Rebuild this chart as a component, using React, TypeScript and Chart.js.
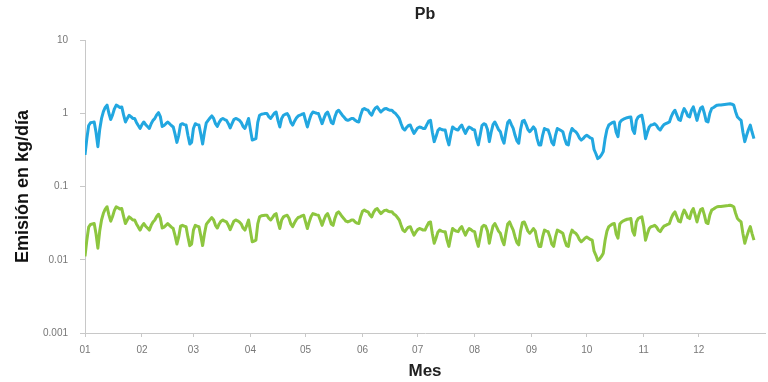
import React, { useEffect, useRef } from 'react';
import { Chart, registerables } from 'chart.js';

Chart.register(...registerables);

const CHART_TITLE = 'Pb';
const X_TITLE = 'Mes';
const Y_TITLE = 'Emisión en kg/día';

const MONTH_LABELS = ['01', '02', '03', '04', '05', '06', '07', '08', '09', '10', '11', '12'];
const MONTH_START_DAYS = [0, 31, 59, 90, 120, 151, 181, 212, 243, 273, 304, 334];
const Y_TICKS = [0.001, 0.01, 0.1, 1, 10];

// Daily emission (kg/día), upper series
const BLUE_SERIES = [
  0.27, 0.45, 0.68, 0.74, 0.75, 0.76, 0.55, 0.35, 0.6, 0.85,
  1.05, 1.2, 1.29, 1.0, 0.82, 0.95, 1.15, 1.29, 1.25, 1.2,
  1.22, 0.95, 0.76, 0.85, 0.94, 0.9, 0.85, 0.85, 0.75, 0.68,
  0.62, 0.7, 0.76, 0.7, 0.66, 0.62, 0.72, 0.8, 0.85, 0.95,
  1.02, 0.9, 0.66, 0.68, 0.72, 0.76, 0.72, 0.68, 0.65, 0.52,
  0.4, 0.5, 0.7, 0.72, 0.7, 0.69, 0.5, 0.38, 0.4, 0.62,
  0.72, 0.7, 0.69, 0.52, 0.38, 0.55, 0.74, 0.8, 0.86, 0.92,
  0.85, 0.72, 0.66, 0.75, 0.82, 0.85, 0.82, 0.8, 0.72, 0.63,
  0.72, 0.82, 0.85, 0.83, 0.8, 0.75, 0.66, 0.62, 0.72, 0.85,
  0.6, 0.43, 0.44, 0.45, 0.75, 0.94, 0.97, 0.98, 0.99, 0.99,
  0.9, 0.85, 0.92, 1.0, 1.04, 0.8, 0.65, 0.85, 0.94, 0.97,
  0.99, 0.9, 0.75, 0.69, 0.78, 0.86, 0.92, 0.94, 0.97, 0.99,
  0.8, 0.65, 0.8, 0.95, 1.04, 1.02, 1.0, 0.99, 0.85, 0.72,
  0.85, 0.98, 1.04, 0.9, 0.75, 0.72, 0.9, 1.05, 1.1, 1.02,
  0.94, 0.88, 0.82, 0.8, 0.82, 0.85, 0.85, 0.8, 0.77, 0.76,
  0.95, 1.12, 1.16, 1.12, 1.1, 1.0, 0.94, 1.08, 1.18, 1.22,
  1.12, 1.04, 1.1, 1.15, 1.16, 1.12, 1.1, 1.1, 1.03, 0.99,
  0.92, 0.85, 0.72, 0.62, 0.59, 0.64, 0.68, 0.69, 0.6, 0.53,
  0.58, 0.63, 0.65, 0.64, 0.62, 0.62, 0.7, 0.78, 0.8, 0.55,
  0.41, 0.48, 0.58, 0.62, 0.6, 0.59, 0.59, 0.45, 0.37, 0.5,
  0.65, 0.62, 0.6, 0.59, 0.65, 0.69, 0.6, 0.53, 0.6, 0.65,
  0.63, 0.6, 0.59, 0.45, 0.37, 0.5, 0.68, 0.72, 0.7, 0.6,
  0.41, 0.55, 0.7, 0.76, 0.68, 0.6, 0.56, 0.45, 0.39, 0.55,
  0.75, 0.8, 0.7, 0.62, 0.5, 0.42, 0.39, 0.6, 0.78, 0.8,
  0.7, 0.6, 0.56, 0.6, 0.65, 0.6, 0.45, 0.37, 0.37, 0.5,
  0.62, 0.6, 0.59, 0.5, 0.4, 0.37, 0.5, 0.62, 0.6, 0.58,
  0.56, 0.45, 0.38, 0.37, 0.52, 0.62, 0.58, 0.56, 0.52, 0.46,
  0.43, 0.45, 0.48, 0.5, 0.48, 0.46, 0.45, 0.32, 0.28, 0.24,
  0.25, 0.27, 0.3, 0.45, 0.6, 0.69, 0.72, 0.75, 0.76, 0.55,
  0.48, 0.75, 0.8, 0.83, 0.85, 0.87, 0.88, 0.89, 0.6, 0.53,
  0.8, 0.89, 0.92, 0.94, 0.7, 0.45, 0.55, 0.65, 0.69, 0.7,
  0.72, 0.68, 0.62, 0.59, 0.65, 0.7, 0.72, 0.74, 0.76, 0.9,
  1.02, 1.1, 0.95, 0.82, 0.8, 1.0, 1.16, 1.05, 0.92, 0.89,
  1.1, 1.22, 1.0, 0.8, 1.0, 1.18, 1.22, 1.0, 0.78, 0.76,
  1.0, 1.16, 1.2, 1.25, 1.29, 1.3, 1.3, 1.31, 1.32, 1.33,
  1.34, 1.35, 1.33, 1.29, 1.05, 0.89, 0.84, 0.8, 0.55, 0.41,
  0.5, 0.6, 0.69, 0.55, 0.45,
];

// Daily emission (kg/día), lower series
const GREEN_SERIES = [
  0.0111, 0.0185, 0.0279, 0.0303, 0.0308, 0.0312, 0.0226, 0.0144, 0.0246, 0.0349,
  0.0431, 0.0492, 0.0529, 0.041, 0.0336, 0.039, 0.0472, 0.0529, 0.0513, 0.0492,
  0.05, 0.039, 0.0312, 0.0349, 0.0385, 0.0369, 0.0349, 0.0349, 0.0308, 0.0279,
  0.0254, 0.0287, 0.0312, 0.0287, 0.0271, 0.0254, 0.0295, 0.0328, 0.0349, 0.039,
  0.0418, 0.0369, 0.0271, 0.0279, 0.0295, 0.0312, 0.0295, 0.0279, 0.0267, 0.0213,
  0.0164, 0.0205, 0.0287, 0.0295, 0.0287, 0.0283, 0.0205, 0.0156, 0.0164, 0.0254,
  0.0295, 0.0287, 0.0283, 0.0213, 0.0156, 0.0226, 0.0303, 0.0328, 0.0353, 0.0377,
  0.0349, 0.0295, 0.0271, 0.0308, 0.0336, 0.0349, 0.0336, 0.0328, 0.0295, 0.0258,
  0.0295, 0.0336, 0.0349, 0.034, 0.0328, 0.0308, 0.0271, 0.0254, 0.0295, 0.0349,
  0.0246, 0.0176, 0.018, 0.0185, 0.0308, 0.0385, 0.0398, 0.0402, 0.0406, 0.0406,
  0.0369, 0.0349, 0.0377, 0.041, 0.0426, 0.0328, 0.0267, 0.0349, 0.0385, 0.0398,
  0.0406, 0.0369, 0.0308, 0.0283, 0.032, 0.0353, 0.0377, 0.0385, 0.0398, 0.0406,
  0.0328, 0.0267, 0.0328, 0.039, 0.0426, 0.0418, 0.041, 0.0406, 0.0349, 0.0295,
  0.0349, 0.0402, 0.0426, 0.0369, 0.0308, 0.0295, 0.0369, 0.0431, 0.0451, 0.0418,
  0.0385, 0.0361, 0.0336, 0.0328, 0.0336, 0.0349, 0.0349, 0.0328, 0.0316, 0.0312,
  0.039, 0.0459, 0.0476, 0.0459, 0.0451, 0.041, 0.0385, 0.0443, 0.0484, 0.05,
  0.0459, 0.0426, 0.0451, 0.0472, 0.0476, 0.0459, 0.0451, 0.0451, 0.0422, 0.0406,
  0.0377, 0.0349, 0.0295, 0.0254, 0.0242, 0.0262, 0.0279, 0.0283, 0.0246, 0.0217,
  0.0238, 0.0258, 0.0267, 0.0262, 0.0254, 0.0254, 0.0287, 0.032, 0.0328, 0.0226,
  0.0168, 0.0197, 0.0238, 0.0254, 0.0246, 0.0242, 0.0242, 0.0185, 0.0152, 0.0205,
  0.0267, 0.0254, 0.0246, 0.0242, 0.0267, 0.0283, 0.0246, 0.0217, 0.0246, 0.0267,
  0.0258, 0.0246, 0.0242, 0.0185, 0.0152, 0.0205, 0.0279, 0.0295, 0.0287, 0.0246,
  0.0168, 0.0226, 0.0287, 0.0312, 0.0279, 0.0246, 0.023, 0.0185, 0.016, 0.0226,
  0.0308, 0.0328, 0.0287, 0.0254, 0.0205, 0.0172, 0.016, 0.0246, 0.032, 0.0328,
  0.0287, 0.0246, 0.023, 0.0246, 0.0267, 0.0246, 0.0185, 0.0152, 0.0152, 0.0205,
  0.0254, 0.0246, 0.0242, 0.0205, 0.0164, 0.0152, 0.0205, 0.0254, 0.0246, 0.0238,
  0.023, 0.0185, 0.0156, 0.0152, 0.0213, 0.0254, 0.0238, 0.023, 0.0213, 0.0189,
  0.0176, 0.0185, 0.0197, 0.0205, 0.0197, 0.0189, 0.0185, 0.0131, 0.0115, 0.0098,
  0.0103, 0.0111, 0.0123, 0.0185, 0.0246, 0.0283, 0.0295, 0.0308, 0.0312, 0.0226,
  0.0197, 0.0308, 0.0328, 0.034, 0.0349, 0.0357, 0.0361, 0.0365, 0.0246, 0.0217,
  0.0328, 0.0365, 0.0377, 0.0385, 0.0287, 0.0185, 0.0226, 0.0267, 0.0283, 0.0287,
  0.0295, 0.0279, 0.0254, 0.0242, 0.0267, 0.0287, 0.0295, 0.0303, 0.0312, 0.0369,
  0.0418, 0.0451, 0.039, 0.0336, 0.0328, 0.041, 0.0476, 0.0431, 0.0377, 0.0365,
  0.0451, 0.05, 0.041, 0.0328, 0.041, 0.0484, 0.05, 0.041, 0.032, 0.0312,
  0.041, 0.0476, 0.0492, 0.0513, 0.0529, 0.0533, 0.0533, 0.0537, 0.0541, 0.0545,
  0.0549, 0.0554, 0.0545, 0.0529, 0.0431, 0.0365, 0.0344, 0.0328, 0.0226, 0.0168,
  0.0205, 0.0246, 0.0283, 0.0226, 0.0185,
];

const FONT = 'Liberation Sans, Arial, sans-serif';

const centeredTitle = {
  id: 'centeredTitle',
  afterDraw(chart: any) {
    const { ctx, chartArea } = chart;
    ctx.save();
    ctx.fillStyle = '#222';
    ctx.font = `bold 16px ${FONT}`;
    ctx.textAlign = 'center';
    ctx.textBaseline = 'middle';
    ctx.fillText(CHART_TITLE, (chartArea.left + chartArea.right) / 2, 15);
    ctx.restore();
  },
};

export default function App() {
  const canvasRef = useRef<HTMLCanvasElement | null>(null);

  useEffect(() => {
    const canvas = canvasRef.current;
    if (!canvas) return;
    const toPoints = (arr: number[]) => arr.map((y, i) => ({ x: i, y }));
    const chart = new Chart(canvas, {
      type: 'line',
      data: {
        datasets: [
          {
            label: 'Pb alto',
            data: toPoints(BLUE_SERIES),
            borderColor: '#22a7e0',
            borderWidth: 3,
            pointRadius: 0,
            tension: 0,
            borderJoinStyle: 'round',
            fill: false,
          },
          {
            label: 'Pb bajo',
            data: toPoints(GREEN_SERIES),
            borderColor: '#8dc63f',
            borderWidth: 3,
            pointRadius: 0,
            tension: 0,
            borderJoinStyle: 'round',
            fill: false,
          },
        ],
      },
      plugins: [centeredTitle],
      options: {
        responsive: false,
        animation: false,
        events: [],
        layout: { padding: { top: 40, right: 3, left: 12, bottom: 0 } },
        plugins: {
          legend: { display: false },
          tooltip: { enabled: false },
          title: { display: false },
        },
        scales: {
          x: {
            type: 'linear',
            min: 0,
            max: 370,
            afterFit: (s: any) => {
              s.height = 49;
            },
            afterBuildTicks: (s: any) => {
              s.ticks = MONTH_START_DAYS.map((v) => ({ value: v }));
            },
            ticks: {
              autoSkip: false,
              maxRotation: 0,
              color: '#777',
              font: { family: FONT, size: 10 },
              padding: 7,
              callback: (_v: any, i: number) => MONTH_LABELS[i],
            },
            grid: { drawOnChartArea: false, drawTicks: true, tickLength: 4, color: '#c8c8c8' },
            border: { display: true, color: '#c8c8c8', width: 1 },
            title: {
              display: true,
              text: X_TITLE,
              color: '#222',
              font: { family: FONT, size: 17, weight: 'bold' },
              padding: { top: 0, bottom: 0 },
            },
          },
          y: {
            type: 'logarithmic',
            min: 0.001,
            max: 10,
            afterFit: (s: any) => {
              s.width = 73;
            },
            afterBuildTicks: (s: any) => {
              s.ticks = Y_TICKS.map((v) => ({ value: v }));
            },
            ticks: {
              autoSkip: false,
              color: '#777',
              font: { family: FONT, size: 10 },
              padding: 12,
              callback: (v: any) => String(v),
            },
            grid: { drawOnChartArea: false, drawTicks: true, tickLength: 5, color: '#c8c8c8' },
            border: { display: true, color: '#c8c8c8', width: 1 },
            title: {
              display: true,
              text: Y_TITLE,
              color: '#111',
              font: { family: FONT, size: 18, weight: 'bold' },
              padding: { top: 0, bottom: 0 },
            },
          },
        },
      },
    } as any);
    return () => chart.destroy();
  }, []);

  return (
    <div style={{ position: 'absolute', left: 0, top: 0, width: 768, height: 382, background: '#fff' }}>
      <canvas ref={canvasRef} width={768} height={382} style={{ width: 768, height: 382, display: 'block' }} />
    </div>
  );
}
